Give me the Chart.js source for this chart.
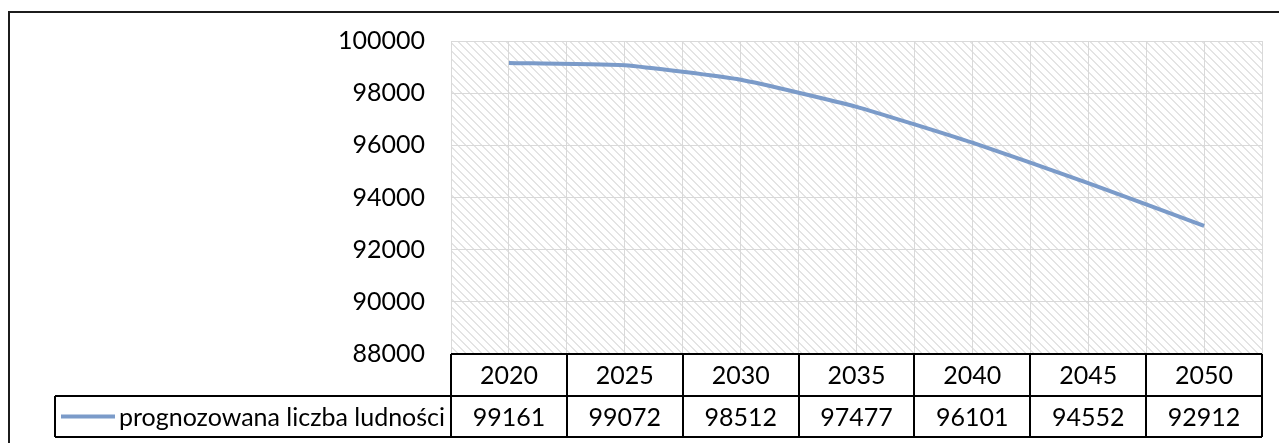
<!DOCTYPE html>
<html><head><meta charset="utf-8">
<script src="https://cdn.jsdelivr.net/npm/chart.js@4.4.1/dist/chart.umd.min.js"></script>
<style>html,body{margin:0;padding:0;background:#fff;overflow:hidden}</style>
</head><body>
<canvas id="c" width="1279" height="443" style="display:block;width:1279px;height:443px"></canvas>
<script>
// ---- data ----
const categories = ['2020', '2025', '2030', '2035', '2040', '2045', '2050'];
const seriesName = 'prognozowana liczba ludności';
const values = [99161, 99072, 98512, 97477, 96101, 94552, 92912];
const yTickValues = [88000, 90000, 92000, 94000, 96000, 98000, 100000];

// ---- style ----
const FONT = '"Lato", "Open Sans", sans-serif';
const FSIZE = 25;
const LINE_COLOR = '#7b9bc9';
const GRID_COLOR = '#d9d9d9';

function makeHatch() {
  const p = document.createElement('canvas');
  p.width = 8; p.height = 8;
  const g = p.getContext('2d');
  g.fillStyle = '#ffffff'; g.fillRect(0, 0, 8, 8);
  g.fillStyle = '#e4e4e4';
  for (let i = 0; i < 8; i++) {
    g.fillRect(i, i, 1, 1);
    g.fillRect((i + 1) % 8, i, 1, 1);
  }
  return p;
}

const hatchPlugin = {
  id: 'hatch',
  beforeDraw(chart) {
    const { ctx, chartArea: a } = chart;
    ctx.save();
    ctx.fillStyle = '#fff';
    ctx.fillRect(0, 0, chart.width, chart.height);
    ctx.fillStyle = ctx.createPattern(makeHatch(), 'repeat');
    ctx.fillRect(a.left, a.top, a.right - a.left, a.bottom - a.top);
    ctx.restore();
  }
};

const tablePlugin = {
  id: 'dataTable',
  afterDraw(chart) {
    const { ctx, chartArea: a } = chart;
    const xs = chart.scales.x;
    const row1Top = a.bottom;
    const row2Top = row1Top + 42;
    const row2Bot = row2Top + 41;
    const legendLeft = 55;
    const left = xs.getPixelForValue(-0.5);
    const right = xs.getPixelForValue(categories.length - 0.5);
    ctx.save();
    // outer chart border
    ctx.strokeStyle = '#1c1c1c';
    ctx.lineWidth = 2;
    ctx.strokeRect(9, 12, 1400, 600);
    // table grid
    ctx.strokeStyle = '#000';
    ctx.lineWidth = 2;
    ctx.beginPath();
    ctx.moveTo(left, row1Top); ctx.lineTo(right, row1Top);
    ctx.moveTo(legendLeft, row2Top); ctx.lineTo(right, row2Top);
    ctx.moveTo(legendLeft, row2Bot); ctx.lineTo(right, row2Bot);
    ctx.moveTo(legendLeft, row2Top); ctx.lineTo(legendLeft, row2Bot);
    for (let i = 0; i <= categories.length; i++) {
      const x = Math.round(xs.getPixelForValue(i - 0.5));
      ctx.moveTo(x, row1Top); ctx.lineTo(x, row2Bot);
    }
    ctx.stroke();
    // texts
    ctx.fillStyle = '#000';
    ctx.font = FSIZE + 'px ' + FONT;
    ctx.textAlign = 'center';
    ctx.textBaseline = 'middle';
    categories.forEach((c, i) => {
      const x = xs.getPixelForValue(i);
      ctx.fillText(c, x, (row1Top + row2Top) / 2 + 1);
      ctx.fillText(String(values[i]), x, (row2Top + row2Bot) / 2 + 1);
    });
    // legend key
    const ly = (row2Top + row2Bot) / 2;
    ctx.strokeStyle = LINE_COLOR;
    ctx.lineWidth = 4;
    ctx.beginPath();
    ctx.moveTo(61, ly); ctx.lineTo(115, ly);
    ctx.stroke();
    ctx.textAlign = 'left';
    ctx.fillText(seriesName, 119, ly + 1);
    ctx.restore();
  }
};

new Chart(document.getElementById('c'), {
  type: 'line',
  data: {
    datasets: [{
      label: seriesName,
      data: values.map((v, i) => ({ x: i, y: v })),
      borderColor: LINE_COLOR,
      borderWidth: 4,
      pointRadius: 0,
      tension: 0.15,
      fill: false
    }]
  },
  options: {
    responsive: false,
    animation: false,
    devicePixelRatio: 1,
    layout: { padding: { left: 0, top: 41, right: 17, bottom: 89 } },
    plugins: { legend: { display: false }, tooltip: { enabled: false } },
    scales: {
      x: {
        type: 'linear',
        min: -0.5,
        max: categories.length - 0.5,
        ticks: { display: false, stepSize: 0.5 },
        grid: { color: GRID_COLOR, lineWidth: 1, drawTicks: false },
        border: { display: false },
        afterFit(s) { s.height = 0; }
      },
      y: {
        min: yTickValues[0],
        max: yTickValues[yTickValues.length - 1],
        afterBuildTicks(s) { s.ticks = yTickValues.map(v => ({ value: v })); },
        ticks: {
          color: '#000',
          padding: 26,
          font: { family: FONT, size: FSIZE },
          callback: v => String(v)
        },
        grid: { color: GRID_COLOR, lineWidth: 1, drawTicks: false },
        border: { display: false },
        afterFit(s) { s.width = 451; }
      }
    }
  },
  plugins: [hatchPlugin, tablePlugin]
});
</script>
</body></html>
